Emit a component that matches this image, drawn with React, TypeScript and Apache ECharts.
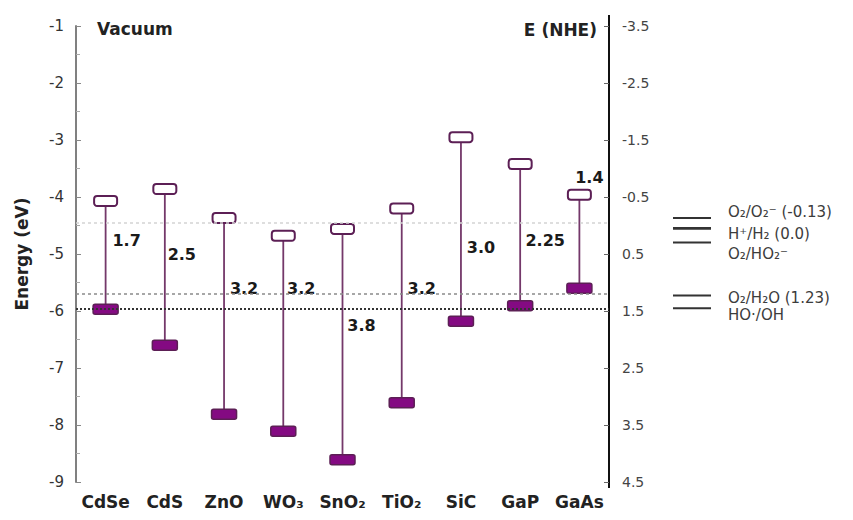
import React, { useEffect, useRef } from "react";
import * as echarts from "echarts";

const categories = ["CdSe", "CdS", "ZnO", "WO₃", "SnO₂", "TiO₂", "SiC", "GaP", "GaAs"];
const conductionBand = [-4.07, -3.86, -4.37, -4.68, -4.56, -4.2, -2.95, -3.42, -3.96];
const valenceBand = [-5.97, -6.6, -7.81, -8.11, -8.61, -7.61, -6.18, -5.91, -5.6];
const bandGaps = ["1.7", "2.5", "3.2", "3.2", "3.8", "3.2", "3.0", "2.25", "1.4"];
// energy (eV) where each band-gap label sits, and its sideways shift in px
const gapLabelEnergy = [-4.77, -5.0, -5.6, -5.6, -6.25, -5.6, -4.88, -4.77, -3.65];
const gapLabelShift = [21, 17, 20, 18, 19, 20, 20, 25, 10];
const referenceLevels = [-4.46, -5.69, -5.96];
const redoxPotentials = [-0.13, 0.05, 0.3, 1.23, 1.45]; // V vs NHE
const redoxLabels = ["O₂/O₂⁻ (-0.13)", "H⁺/H₂ (0.0)", "O₂/HO₂⁻", "O₂/H₂O (1.23)", "HO·/OH"];
const redoxLabelOffset = [-6, 6, 11, 2, 7];
const vacuumMin = -9;
const vacuumMax = -1;

const FONT = "DejaVu Sans";

export default function App() {
  const ref = useRef<HTMLDivElement>(null);
  useEffect(() => {
    document.body.style.margin = "0";
    if (!ref.current) return;
    const chart = echarts.init(ref.current, undefined, { renderer: "svg" });
    const refStyles = [
      { color: "#d4d4d4", width: 1.5, type: [3, 3] },
      { color: "#8a8a8a", width: 1.5, type: [3, 3] },
      { color: "#333333", width: 2, type: [2, 2] },
    ];
    const option: any = {
      animation: false,
      backgroundColor: "#ffffff",
      grid: { left: 76, right: 244, top: 26, bottom: 38, containLabel: false },
      xAxis: {
        type: "category",
        data: categories,
        axisLine: { show: false },
        axisTick: { show: false },
        axisLabel: {
          interval: 0,
          hideOverlap: false,
          fontFamily: FONT,
          fontWeight: "bold",
          fontSize: 17,
          color: "#222",
          margin: 11,
        },
      },
      yAxis: [
        {
          type: "value",
          position: "left",
          min: vacuumMin,
          max: vacuumMax,
          interval: 1,
          splitLine: { show: false },
          axisLine: { show: true, lineStyle: { color: "#808080", width: 2 } },
          axisTick: { show: true, inside: true, length: 5, lineStyle: { color: "#888" } },
          minorTick: { show: true, splitNumber: 2, length: 4, lineStyle: { color: "#aaa" } },
          axisLabel: { fontFamily: FONT, fontSize: 15, color: "#333", margin: 12 },
          name: "Energy (eV)",
          nameLocation: "middle",
          nameGap: 46,
          nameTextStyle: { fontFamily: FONT, fontWeight: "bold", fontSize: 17, color: "#222" },
        },
        {
          type: "value",
          position: "right",
          min: vacuumMin,
          max: vacuumMax,
          interval: 1,
          splitLine: { show: false },
          axisLine: { show: true, lineStyle: { color: "#111", width: 2 } },
          axisTick: { show: true, inside: true, length: 5, lineStyle: { color: "#666" } },
          axisLabel: {
            fontFamily: FONT,
            fontSize: 14,
            color: "#444",
            margin: 13,
            formatter: (v: number) => (-v - 4.5).toFixed(1),
          },
        },
      ],
      series: [
        {
          type: "custom",
          yAxisIndex: 0,
          data: categories.map((_, i) => [i, conductionBand[i], valenceBand[i]]),
          encode: { x: 0, y: [1, 2] },
          renderItem: (params: any, api: any) => {
            const i = api.value(0);
            const cb = api.coord([i, api.value(1)]);
            const vb = api.coord([i, api.value(2)]);
            const x = cb[0];
            const cbW = 23, cbH = 10, vbW = 25, vbH = 10;
            return {
              type: "group",
              children: [
                {
                  type: "line",
                  shape: { x1: x, y1: cb[1] + cbH / 2, x2: x, y2: vb[1] - vbH / 2 },
                  style: { stroke: "#74386a", lineWidth: 1.8 },
                },
                {
                  type: "rect",
                  shape: { x: x - cbW / 2, y: cb[1] - cbH / 2, width: cbW, height: cbH, r: 3 },
                  style: { fill: "#ffffff", stroke: "#5c1f55", lineWidth: 2 },
                },
                {
                  type: "rect",
                  shape: { x: x - vbW / 2, y: vb[1] - vbH / 2, width: vbW, height: vbH, r: 2 },
                  style: { fill: "#840a82", stroke: "#5c1f55", lineWidth: 1.5 },
                },
              ],
            };
          },
          z: 3,
        },
        {
          type: "scatter",
          yAxisIndex: 0,
          symbolSize: 0,
          silent: true,
          itemStyle: { opacity: 1 },
          data: gapLabelEnergy.map((v, i) => ({
            value: [i, v],
            label: { offset: [gapLabelShift[i], 0] },
          })),
          label: {
            show: true,
            position: "inside",
            formatter: (p: any) => bandGaps[p.dataIndex],
            fontFamily: FONT,
            fontWeight: "bold",
            fontSize: 16,
            color: "#1a1a1a",
            textBorderWidth: 0,
          },
          markLine: {
            silent: true,
            symbol: "none",
            label: { show: false },
            data: referenceLevels.map((v, i) => ({ yAxis: v, lineStyle: refStyles[i] })),
          },
          z: 4,
        },
      ],
    };
    chart.setOption(option);

    const yPix = (nhe: number) => chart.convertToPixel({ yAxisIndex: 0 }, -4.5 - nhe) as number;
    const graphic: any[] = [
      {
        type: "text",
        x: 97,
        y: 29,
        style: {
          text: "Vacuum",
          font: `bold 17px "${FONT}"`,
          fill: "#222",
          align: "left",
          verticalAlign: "middle",
          textAlign: "left",
          textVerticalAlign: "middle",
        },
      },
      {
        type: "text",
        x: 597,
        y: 30,
        style: {
          text: "E (NHE)",
          font: `bold 17px "${FONT}"`,
          fill: "#222",
          align: "right",
          verticalAlign: "middle",
          textAlign: "right",
          textVerticalAlign: "middle",
        },
      },
      {
        type: "line",
        shape: { x1: 609, y1: 15, x2: 609, y2: 488 },
        style: { stroke: "#111", lineWidth: 2 },
      },
    ];
    redoxPotentials.forEach((p, i) => {
      const y = yPix(p);
      graphic.push({
        type: "line",
        shape: { x1: 673, y1: y, x2: 711, y2: y },
        style: { stroke: "#333", lineWidth: i === 1 ? 2.6 : 2 },
      });
      graphic.push({
        type: "text",
        x: 728,
        y: y + redoxLabelOffset[i],
        style: {
          text: redoxLabels[i],
          font: `15px "${FONT}"`,
          fill: "#3c3c3c",
          align: "left",
          verticalAlign: "middle",
          textAlign: "left",
          textVerticalAlign: "middle",
        },
      });
    });
    chart.setOption({ graphic });

    return () => chart.dispose();
  }, []);
  return <div ref={ref} style={{ width: 853, height: 520 }} />;
}
